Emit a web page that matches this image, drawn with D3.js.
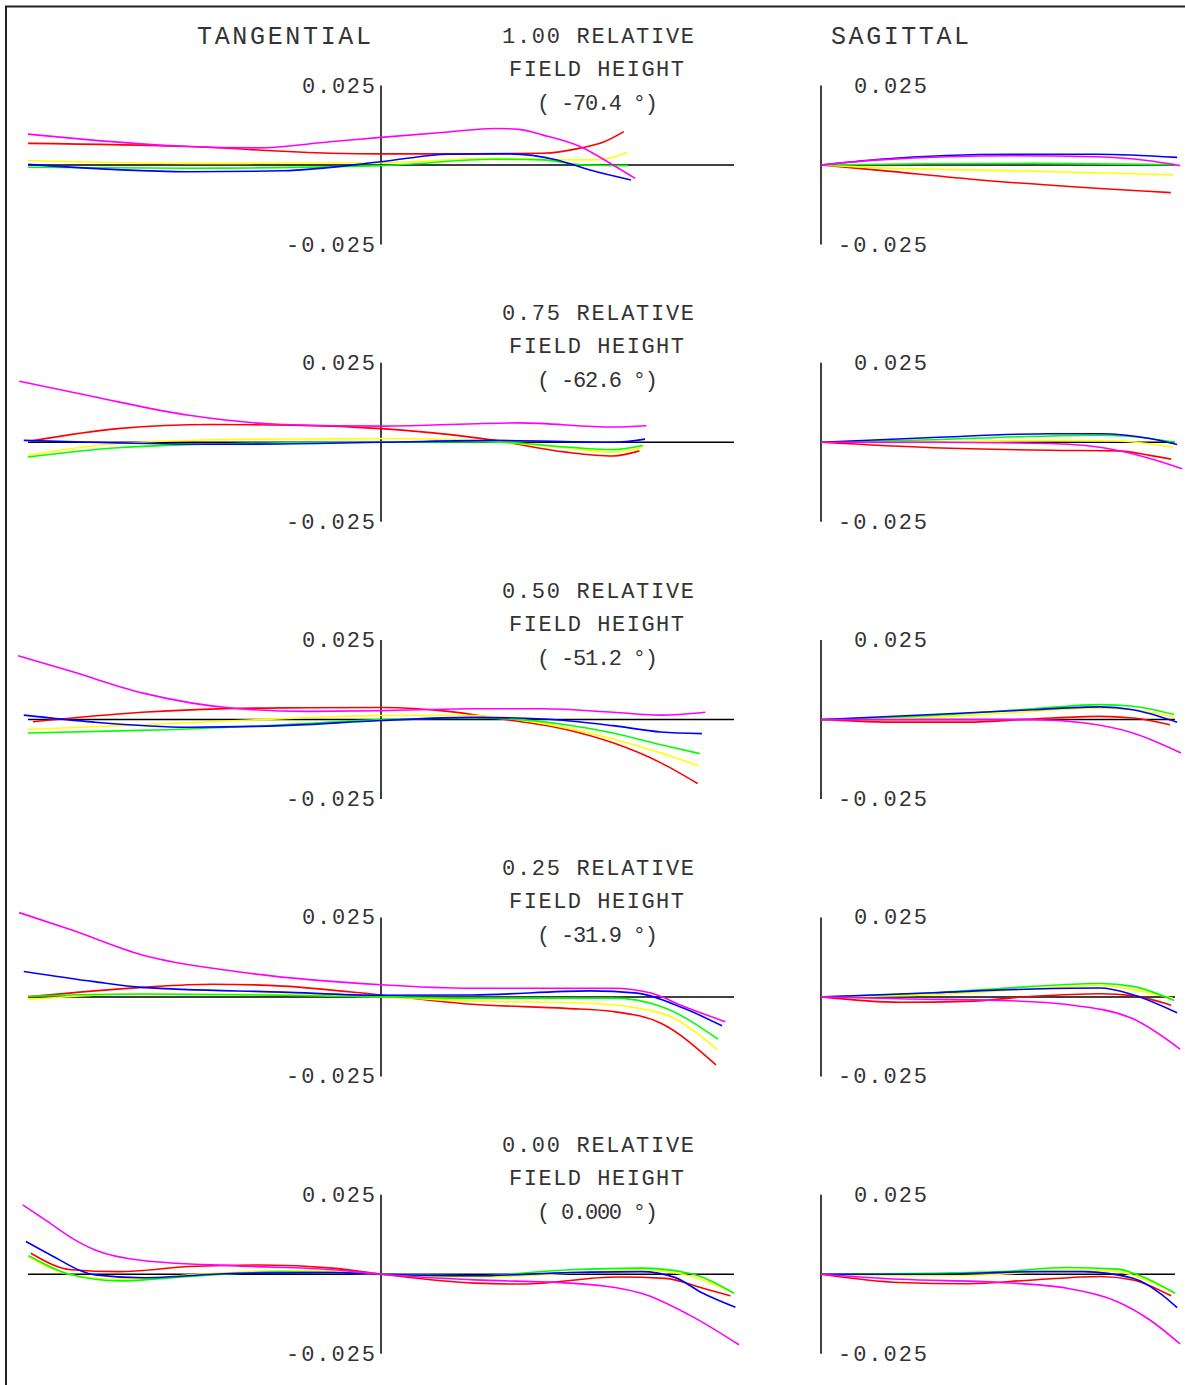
<!DOCTYPE html>
<html><head><meta charset="utf-8">
<script src="https://cdn.jsdelivr.net/npm/d3@7"></script>
<style>
body{margin:0;background:#fff}
svg{display:block}
text{font-family:"Liberation Mono","DejaVu Sans Mono",monospace;fill:#333}
</style>
</head><body>
<svg id="chart" width="1185" height="1385"></svg>
<script>
// ---- chart values ----
const fieldValues = ["1.00", "0.75", "0.50", "0.25", "0.00"];
const fieldAngles = ["-70.4", "-62.6", "-51.2", "-31.9", "0.000"];
const seriesNames = ["red", "yellow", "green", "blue", "magenta"];
const tickLabels = ["0.025", "-0.025"];
const axisMax = 0.025;

// tangential fans: [relative pupil coordinate, ray aberration (mm)]
const tan_100 = {
  red: [[-1,0.0068],[-0.544,0.0058],[-0.144,0.0037],[0,0.0035],[0.258,0.0035],[0.459,0.0037],[0.564,0.0053],[0.632,0.0073],[0.688,0.0105]],
  yellow: [[-1,0.0014],[-0.544,0.0005],[0,0.0007],[0.323,0.0021],[0.459,0.0018],[0.592,0.0016],[0.646,0.0021],[0.697,0.004]],
  green: [[-1,-0.0007],[-0.544,-0.001],[0,-0.0002],[0.323,0.0018],[0.459,0.0016],[0.564,0.0001],[0.70,-0.0002]],
  blue: [[-1,0.0002],[-0.544,-0.0021],[-0.278,-0.0018],[0,0.001],[0.19,0.0034],[0.365,0.0035],[0.499,0.0016],[0.592,-0.0016],[0.708,-0.0047]],
  magenta: [[-1,0.0097],[-0.544,0.0058],[-0.35,0.0054],[-0.144,0.0073],[0,0.0087],[0.19,0.0104],[0.323,0.0115],[0.391,0.0112],[0.459,0.0094],[0.564,0.0058],[0.657,0],[0.72,-0.0042]]
};
const tan_075 = {
  red: [[-0.992,0.0004],[-0.745,0.0043],[-0.479,0.0056],[-0.144,0.0051],[0,0.0043],[0.19,0.0025],[0.323,0.0006],[0.524,-0.0031],[0.657,-0.0043],[0.732,-0.0027]],
  yellow: [[-1,-0.0041],[-0.745,-0.0004],[-0.411,0.0009],[0,0.0012],[0.258,0.0006],[0.524,-0.0017],[0.657,-0.0031],[0.739,-0.0017]],
  green: [[-1,-0.0046],[-0.745,-0.0017],[-0.411,-0.0004],[0,0.0001],[0.323,0.0001],[0.524,-0.0015],[0.657,-0.0023],[0.742,-0.001]],
  blue: [[-1.012,0.0006],[-0.745,-0.0002],[-0.411,-0.0006],[0,0],[0.323,0.0006],[0.657,0],[0.748,0.001]],
  magenta: [[-1.025,0.0192],[-0.813,0.0143],[-0.544,0.0085],[-0.278,0.0056],[0,0.0051],[0.391,0.0061],[0.657,0.0048],[0.752,0.0052]]
};
const tan_050 = {
  red: [[-0.986,-0.0007],[-0.677,0.0023],[-0.278,0.0037],[0,0.0038],[0.19,0.0026],[0.323,0.0005],[0.524,-0.0031],[0.657,-0.0073],[0.793,-0.0136],[0.897,-0.0201]],
  yellow: [[-1,-0.0031],[-0.677,-0.0016],[-0.278,0.0003],[0,0.0013],[0.258,0.0013],[0.391,0],[0.524,-0.0026],[0.657,-0.0061],[0.793,-0.0105],[0.9,-0.0145]],
  green: [[-1,-0.0042],[-0.677,-0.0034],[-0.278,-0.0016],[0,0],[0.258,0.0005],[0.391,0],[0.524,-0.0016],[0.657,-0.0042],[0.793,-0.0079],[0.903,-0.0107]],
  blue: [[-1.012,0.0014],[-0.813,-0.0008],[-0.544,-0.0024],[-0.278,-0.0019],[0,-0.0003],[0.258,0.0007],[0.459,0.0002],[0.657,-0.0019],[0.793,-0.0039],[0.909,-0.0044]],
  magenta: [[-1.028,0.0201],[-0.878,0.0152],[-0.677,0.0084],[-0.411,0.0035],[-0.21,0.0026],[0,0.0028],[0.258,0.0034],[0.459,0.0034],[0.657,0.0023],[0.793,0.0014],[0.919,0.0023]]
};
const tan_025 = {
  red: [[-1,0],[-0.677,0.003],[-0.479,0.004],[-0.278,0.0034],[0,0.0006],[0.258,-0.0023],[0.524,-0.0036],[0.657,-0.0046],[0.793,-0.0083],[0.949,-0.0214]],
  yellow: [[-1,-0.0008],[-0.677,0.0009],[-0.278,0.0008],[0,0],[0.258,-0.0013],[0.592,-0.002],[0.793,-0.0051],[0.952,-0.0165]],
  green: [[-1,0.0002],[-0.677,0.0009],[-0.278,0.0005],[0,0],[0.258,-0.0004],[0.657,-0.0004],[0.793,-0.003],[0.955,-0.0133]],
  blue: [[-1.012,0.008],[-0.813,0.0048],[-0.677,0.003],[-0.278,0.0015],[0,0.0005],[0.258,0.0006],[0.592,0.0019],[0.725,0.0012],[0.858,-0.0036],[0.966,-0.0091]],
  magenta: [[-1.025,0.0265],[-0.878,0.0211],[-0.677,0.0132],[-0.411,0.008],[0,0.0038],[0.258,0.0027],[0.657,0.0027],[0.765,0.0012],[0.858,-0.003],[0.975,-0.0078]]
};
const tan_000 = {
  red: [[-0.992,0.0066],[-0.878,0.0014],[-0.742,0.0008],[-0.541,0.0024],[-0.34,0.0029],[-0.137,0.0019],[0,0],[0.266,-0.0028],[0.401,-0.0031],[0.67,-0.0009],[0.805,-0.0013],[0.912,-0.0044],[0.99,-0.0068]],
  yellow: [[-0.998,0.0055],[-0.878,-0.0002],[-0.742,-0.0016],[-0.473,0.0003],[-0.204,0.0011],[0,0],[0.266,-0.0009],[0.535,0.0003],[0.737,0.0014],[0.873,-0.0005],[0.993,-0.0055]],
  green: [[-0.998,0.0058],[-0.878,-0.0002],[-0.742,-0.0021],[-0.541,-0.0007],[-0.272,0.0008],[0,0],[0.266,-0.0005],[0.535,0.0014],[0.737,0.0019],[0.873,0.0003],[1.0,-0.006]],
  blue: [[-1.006,0.0103],[-0.945,0.0066],[-0.81,-0.0002],[-0.676,-0.0011],[-0.407,0.0003],[-0.137,0.0005],[0,0],[0.266,-0.0005],[0.535,0.0005],[0.737,0.0008],[0.832,-0.001],[0.912,-0.006],[1.004,-0.0104]],
  magenta: [[-1.015,0.0218],[-0.945,0.0166],[-0.878,0.0115],[-0.81,0.0076],[-0.676,0.0043],[-0.407,0.0026],[-0.137,0.0014],[0,0],[0.266,-0.0018],[0.535,-0.0028],[0.737,-0.006],[0.873,-0.0128],[1.014,-0.0222]]
};

// sagittal fans: [relative pupil coordinate, ray aberration (mm)]
const sag_100 = {
  red: [[0,0],[0.167,-0.0017],[0.449,-0.0047],[0.988,-0.0087]],
  yellow: [[0,0],[0.167,-0.0009],[0.542,-0.0018],[0.994,-0.0031]],
  green: [[0,0],[0.3,0.0004],[0.6,0.0005],[1.0,0.0001]],
  blue: [[0,0],[0.167,0.0018],[0.542,0.0034],[0.78,0.0034],[1.006,0.0024]],
  magenta: [[0,0],[0.167,0.0016],[0.542,0.0029],[0.78,0.0026],[0.921,0.0014],[1.014,-0.0002]]
};
const sag_075 = {
  red: [[0,0],[0.316,-0.0017],[0.647,-0.0025],[0.836,-0.0027],[0.929,-0.0041],[0.989,-0.0053]],
  yellow: [[0,0],[0.316,0.0001],[0.647,0.0006],[0.836,0.0004],[0.994,-0.0015]],
  green: [[0,0],[0.316,0.0008],[0.647,0.002],[0.788,0.0022],[0.929,0.0012],[1.0,0]],
  blue: [[0,0],[0.316,0.0015],[0.647,0.0027],[0.788,0.0027],[0.929,0.0012],[1.006,-0.0007]],
  magenta: [[0,0],[0.316,0],[0.647,-0.0004],[0.836,-0.0025],[0.929,-0.0051],[1.02,-0.0083]]
};
const sag_050 = {
  red: [[0,0],[0.223,-0.0008],[0.412,-0.0008],[0.599,0.0002],[0.788,0.001],[0.881,0.0005],[0.986,-0.0016]],
  yellow: [[0,0],[0.316,0.0008],[0.599,0.0026],[0.788,0.0037],[0.881,0.0031],[0.997,0.0008]],
  green: [[0,0],[0.316,0.0013],[0.599,0.0034],[0.788,0.0047],[0.881,0.0042],[0.997,0.0016]],
  blue: [[0,0],[0.316,0.0016],[0.599,0.0031],[0.788,0.004],[0.881,0.0031],[1.006,-0.0008]],
  magenta: [[0,0],[0.316,0],[0.599,0],[0.74,-0.001],[0.881,-0.0042],[1.017,-0.0105]]
};
const sag_025 = {
  red: [[0,0],[0.223,-0.0017],[0.412,-0.0014],[0.599,0.0002],[0.788,0.001],[0.881,0.0004],[0.989,-0.0026]],
  yellow: [[0,0],[0.316,0.0007],[0.599,0.0025],[0.788,0.0036],[0.881,0.0023],[0.994,-0.0004]],
  green: [[0,0],[0.316,0.0013],[0.599,0.0033],[0.788,0.0042],[0.881,0.0033],[0.997,-0.0011]],
  blue: [[0,0],[0.316,0.0013],[0.599,0.0025],[0.788,0.0028],[0.881,0.0007],[1.006,-0.005]],
  magenta: [[0,0],[0.223,-0.0006],[0.506,-0.0011],[0.695,-0.0024],[0.881,-0.0069],[1.014,-0.0164]]
};
const sag_000 = {
  red: [[0,0],[0.223,-0.0026],[0.412,-0.003],[0.599,-0.0018],[0.788,-0.0007],[0.881,-0.0018],[0.989,-0.0068]],
  yellow: [[0,0],[0.316,-0.0005],[0.506,0],[0.695,0.0014],[0.836,0.0008],[0.929,-0.0023],[0.991,-0.0055]],
  green: [[0,0],[0.316,0.0003],[0.506,0.0008],[0.695,0.0021],[0.836,0.0016],[0.929,-0.0018],[1.0,-0.006]],
  blue: [[0,0],[0.316,0],[0.599,0.0008],[0.74,0.0008],[0.881,-0.0013],[0.958,-0.006],[1.006,-0.0105]],
  magenta: [[0,0],[0.223,-0.0016],[0.506,-0.0026],[0.695,-0.0044],[0.836,-0.0086],[0.929,-0.0144],[1.014,-0.0219]]
};

const tanData = [tan_100, tan_075, tan_050, tan_025, tan_000];
const sagData = [sag_100, sag_075, sag_050, sag_025, sag_000];

// ---- styles / layout ----
const seriesColors = {red:"#ff0000", yellow:"#ffff00", green:"#00ff00", blue:"#0000ff", magenta:"#ff00ff"};
const rowCenter0 = 165, rowStep = 277.3, halfH = 79.5;

const svg = d3.select("#chart");

// frame
svg.append("path").attr("d","M6,1390V6.5H1190")
  .attr("fill","none").attr("stroke","#222").attr("stroke-width",2);

// column headers
svg.append("text").attr("x",284).attr("y",44).attr("text-anchor","middle")
  .attr("font-size",25).attr("textLength",174).attr("lengthAdjust","spacing").text("TANGENTIAL");
svg.append("text").attr("x",900).attr("y",44).attr("text-anchor","middle")
  .attr("font-size",25).attr("textLength",138).attr("lengthAdjust","spacing").text("SAGITTAL");

const xT = d3.scaleLinear().domain([-1,1]).range([28,734]);
const xS = d3.scaleLinear().domain([0,1]).range([821,1175]);

function label(x, y, str, len, anchor){
  svg.append("text").attr("x",x).attr("y",y).attr("text-anchor",anchor||"middle")
    .attr("font-size",22).attr("textLength",len).attr("lengthAdjust","spacing").text(str);
}

fieldValues.forEach((fv, i) => {
  const cy = rowCenter0 + i*rowStep;
  const y = d3.scaleLinear().domain([-axisMax, axisMax]).range([cy+halfH, cy-halfH]);
  const off = i*rowStep;

  // field title
  label(598, 43+off, fv + " RELATIVE", 192);
  label(596.5, 76+off, "FIELD HEIGHT", 175);
  label(597.5, 110+off, "( " + fieldAngles[i] + " \u00B0)", 121);

  const g = svg.append("g");
  // tangential axes
  g.append("line").attr("x1",xT(0)).attr("x2",xT(0)).attr("y1",y(axisMax)).attr("y2",y(-axisMax))
    .attr("stroke","#000").attr("stroke-width",1.5);
  g.append("line").attr("x1",xT(-1)).attr("x2",xT(1)).attr("y1",y(0)).attr("y2",y(0))
    .attr("stroke","#000").attr("stroke-width",1.5);
  // sagittal axes
  g.append("line").attr("x1",xS(0)).attr("x2",xS(0)).attr("y1",y(axisMax)).attr("y2",y(-axisMax))
    .attr("stroke","#000").attr("stroke-width",1.5);
  g.append("line").attr("x1",xS(0)).attr("x2",xS(1)).attr("y1",y(0)).attr("y2",y(0))
    .attr("stroke","#000").attr("stroke-width",1.5);

  // tick labels
  label(xT(0)-6, y(axisMax)+7, tickLabels[0], 73, "end");
  label(xT(0)-6, y(-axisMax)+7, tickLabels[1], 89, "end");
  label(xS(0)+106, y(axisMax)+7, tickLabels[0], 73, "end");
  label(xS(0)+106, y(-axisMax)+7, tickLabels[1], 89, "end");

  const lineT = d3.line().x(d=>xT(d[0])).y(d=>y(d[1])).curve(d3.curveMonotoneX);
  const lineS = d3.line().x(d=>xS(d[0])).y(d=>y(d[1])).curve(d3.curveMonotoneX);

  seriesNames.forEach(s => {
    g.append("path").attr("d", lineT(tanData[i][s])).attr("fill","none")
      .attr("stroke", seriesColors[s]).attr("stroke-width",1.6);
    g.append("path").attr("d", lineS(sagData[i][s])).attr("fill","none")
      .attr("stroke", seriesColors[s]).attr("stroke-width",1.6);
  });
});
</script>
</body></html>
